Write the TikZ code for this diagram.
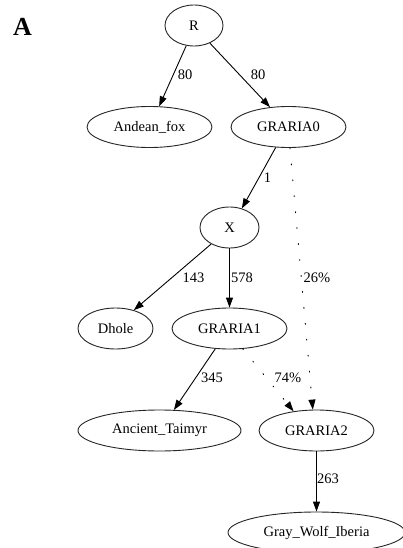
\documentclass[tikz,border=0pt]{standalone}
\usepackage{fontspec}
\setmainfont{Liberation Serif}
\usetikzlibrary{shapes.geometric,arrows.meta}
\begin{document}
\begin{tikzpicture}[x=1pt,y=-1pt,
  taxon/.style={draw=black!85,line width=0.9pt,ellipse,inner sep=0pt,
    minimum height=41pt,font=\fontsize{14.5}{17}\selectfont},
  wlabel/.style={inner sep=0pt,font=\fontsize{14.5}{17}\selectfont},
  branch/.style={line width=0.9pt,-{Triangle[length=10pt,width=7pt]}},
  admix/.style={branch,dash pattern=on 1pt off 15pt,line cap=round}]
  \clip (0,0) rectangle (403,548);
  \fill[white] (0,0) rectangle (403,548);

  % panel letter
  \node[inner sep=0pt,font=\fontsize{26}{30}\bfseries\selectfont] (panel) at (22.5,27) {A};

  % tree nodes
  \node[taxon,minimum width=58pt] (R) at (194,25.5) {R};
  \node[taxon,minimum width=125pt] (andean) at (149.5,127) {Andean\_fox};
  \node[taxon,minimum width=115pt] (g0) at (288.5,127) {GRARIA0};
  \node[taxon,minimum width=59pt] (X) at (229.5,227.5) {X};
  \node[taxon,minimum width=75pt] (dhole) at (115.5,328.5) {Dhole};
  \node[taxon,minimum width=115pt] (g1) at (229.5,328.5) {GRARIA1};
  \node[taxon,minimum width=163pt] (taimyr) at (159.5,430.5) {Ancient\_Taimyr};
  \node[taxon,minimum width=115pt] (g2) at (316.5,430.5) {GRARIA2};
  \node[taxon,minimum width=177pt] (iberia) at (316.5,532.5) {Gray\_Wolf\_Iberia};

  % drift branches
  \draw[branch] (R.-111) -- (andean.65);
  \draw[branch] (R.-48) -- (g0.133);
  \draw[branch] (g0.-122) -- (X.57);
  \draw[branch] (X.-138) -- (dhole.45);
  \draw[branch] (X.south) -- (g1.north);
  \draw[branch] (g1.-125) -- (taimyr.55);
  \draw[branch] (g2.south) -- (iberia.north);

  % admixture edges
  \draw[admix] (g0.-86) -- (g2.100);
  \draw[admix] (g1.-57) -- (g2.140);

  % branch labels
  \node[wlabel] (w1) at (185,75) {80};
  \node[wlabel] (w2) at (258,75) {80};
  \node[wlabel] (w3) at (267.5,178) {1};
  \node[wlabel] (w4) at (193.5,278) {143};
  \node[wlabel] (w5) at (242,278) {578};
  \node[wlabel] (w6) at (317,278) {26\%};
  \node[wlabel] (w7) at (212,378) {345};
  \node[wlabel] (w8) at (288,378) {74\%};
  \node[wlabel] (w9) at (328,479) {263};
\end{tikzpicture}
\end{document}
